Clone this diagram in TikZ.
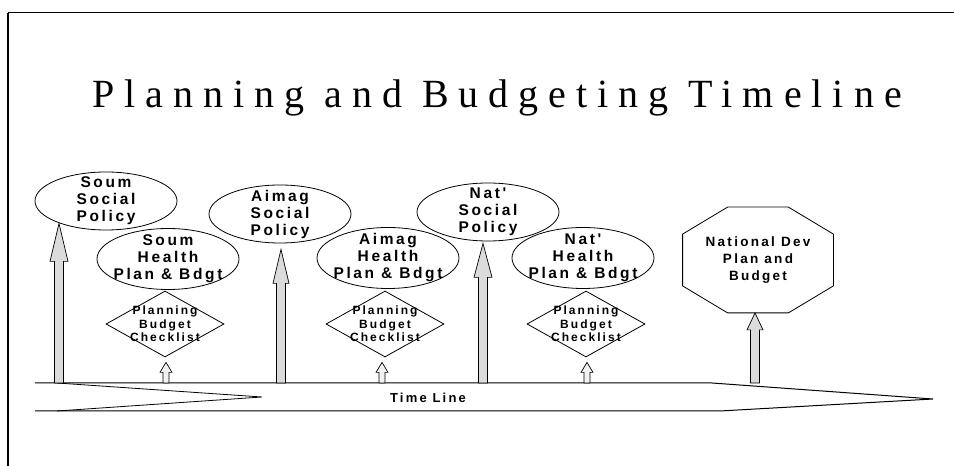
\documentclass[tikz,border=0pt]{standalone}
\usepackage{fontspec}
\setmainfont{Liberation Serif}
\setsansfont{Liberation Sans}
\newfontfamily\titlefont[LetterSpace=25]{Liberation Serif}
\newfontfamily\boxfont[LetterSpace=17]{Liberation Sans}
\usetikzlibrary{shapes.geometric, calc}

% vertical block arrow: [style]{base}{tip}{half shaft}{half head}{head length}
\newcommand{\blockarr}[6][]{%
  \draw[#1] let \p1=(#2), \p2=(#3) in
    (\x1-#4,\y1) -- (\x1-#4,\y2-#6) -- (\x1-#5,\y2-#6) -- (\x1,\y2)
    -- (\x1+#5,\y2-#6) -- (\x1+#4,\y2-#6) -- (\x1+#4,\y1) -- cycle;}

\begin{document}
\begin{tikzpicture}[x=1pt, y=1pt, line width=0.8pt,
    txt/.style = {font=\boxfont\bfseries\fontsize{15.5}{17}\selectfont, align=center},
    chktxt/.style = {font=\boxfont\bfseries\fontsize{12}{13.5}\selectfont, align=center},
    policy/.style = {draw, ellipse, minimum width=142, minimum height=58, inner sep=0pt},
    plan/.style = {draw, ellipse, minimum width=142, minimum height=61, inner sep=0pt},
    check/.style = {draw, diamond, minimum width=118, minimum height=66, inner sep=0pt},
    bigarr/.style = {draw, fill=gray!28, line width=0.7pt},
    smallarr/.style = {draw, fill=gray!10, line width=0.7pt}]

    \useasboundingbox (0,0) rectangle (954,466);
    \draw[line width=1.5pt] (8,0) -- (8,453); \draw[line width=1pt] (8,453) -- (954,453);

    \node[font=\titlefont\fontsize{40}{42}\selectfont, anchor=base] (ttl) at (497,358) {Planning and Budgeting Timeline};

    % time line arrow
    \draw[line width=1pt] (35,83) -- (712,83) -- (933,67) -- (720,55) -- (35,55);
    \draw (57,83) -- (262,69) -- (57,55);
    \node[font=\boxfont\bfseries\fontsize{13}{15}\selectfont] (tl) at (428,68) {Time Line};

    \node[policy, label={[txt]center:{Soum\\Social\\Policy}}] (sSoc) at (106,265) {};
    \node[plan, label={[txt]center:{Soum\\Health\\Plan \& Bdgt}}] (sHlth) at (168,207) {};
    \node[check, label={[chktxt]center:{Planning\\Budget\\Checklist}}] (ck1) at (165,142) {};

    \node[policy, label={[txt]center:{Aimag\\Social\\Policy}}] (aSoc) at (280,252) {};
    \node[plan, label={[txt]center:{Aimag\\Health\\Plan \& Bdgt}}] (aHlth) at (388,208) {};
    \node[check, label={[chktxt]center:{Planning\\Budget\\Checklist}}] (ck2) at (385,142) {};

    \node[policy, label={[txt]center:{Nat'\\Social\\Policy}}] (nSoc) at (488,254) {};
    \node[plan, label={[txt]center:{Nat'\\Health\\Plan \& Bdgt}}] (nHlth) at (583,208) {};
    \node[check, label={[chktxt]center:{Planning\\Budget\\Checklist}}] (ck3) at (586,142) {};

    % octagon
    \node[minimum width=150, minimum height=105, label={[txt, font=\boxfont\bfseries\fontsize{13.5}{17}\selectfont]center:{National Dev\\Plan and\\Budget}}] (nDev) at (758,206) {};
    \draw ($(nDev.north west)+(45,0)$) -- ($(nDev.north east)+(-45,0)$) -- ($(nDev.north east)+(0,-27)$) -- ($(nDev.south east)+(0,27)$)
       -- ($(nDev.south east)+(-45,0)$) -- ($(nDev.south west)+(45,0)$) -- ($(nDev.south west)+(0,27)$) -- ($(nDev.north west)+(0,-27)$) -- cycle;

    \coordinate (b1) at (59,83); \coordinate (b2) at (166,83); \coordinate (b3) at (281,83); \coordinate (b4) at (382,83);
    \coordinate (b5) at (483,83); \coordinate (b6) at (587,83); \coordinate (b7) at (755,83);

    \blockarr[bigarr]{b1}{$(sSoc.south)+(0,7)$}{4.5pt}{9pt}{38pt}
    \blockarr[bigarr]{b3}{$(aSoc.south)+(0,-6)$}{4.5pt}{8pt}{34pt}
    \blockarr[bigarr]{b5}{$(nSoc.south)+(0,-2)$}{4.5pt}{9pt}{34pt}
    \blockarr[bigarr]{b7}{nDev.south}{4.5pt}{8pt}{17pt}
    \blockarr[smallarr]{b2}{$(ck1.south)+(0,-5)$}{3pt}{6pt}{10pt}
    \blockarr[smallarr]{b4}{$(ck2.south)+(0,-5)$}{3pt}{6pt}{10pt}
    \blockarr[smallarr]{b6}{$(ck3.south)+(0,-5)$}{3pt}{6pt}{10pt}
\end{tikzpicture}
\end{document}
